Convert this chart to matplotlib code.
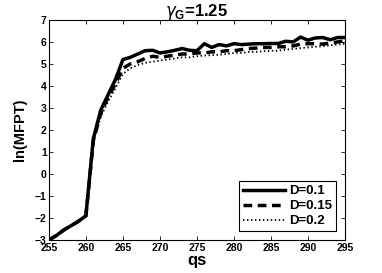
import matplotlib
matplotlib.use("Agg")
import matplotlib.pyplot as plt

plt.rcParams['font.family'] = ['Liberation Sans', 'DejaVu Sans']
plt.rcParams['mathtext.fontset'] = 'custom'
plt.rcParams['mathtext.rm'] = 'Liberation Sans:bold'
plt.rcParams['mathtext.bf'] = 'Liberation Sans:bold'

qs = list(range(255, 296))
d01 = [-3.0, -2.8, -2.55, -2.35, -2.15, -1.9, 1.6, 2.9, 3.6, 4.3,
       5.2, 5.3, 5.45, 5.6, 5.62, 5.5, 5.55, 5.62, 5.7, 5.62,
       5.6, 5.92, 5.75, 5.88, 5.82, 5.92, 5.88, 5.9, 5.92, 5.92,
       5.93, 5.93, 6.03, 6.0, 6.22, 6.08, 6.18, 6.2, 6.1, 6.2, 6.2]
d015 = [-3.0, -2.8, -2.55, -2.35, -2.15, -1.9, 1.5, 2.75, 3.5, 4.1,
        4.8, 5.0, 5.1, 5.25, 5.35, 5.3, 5.35, 5.4, 5.45, 5.45,
        5.5, 5.5, 5.55, 5.55, 5.6, 5.6, 5.65, 5.7, 5.72, 5.75,
        5.75, 5.78, 5.78, 5.82, 5.9, 5.92, 5.92, 5.9, 5.95, 6.0, 6.05]
d02 = [-3.0, -2.8, -2.55, -2.35, -2.15, -1.9, 1.45, 2.6, 3.3, 3.9,
       4.55, 4.8, 4.95, 5.05, 5.1, 5.15, 5.2, 5.25, 5.3, 5.3,
       5.35, 5.38, 5.4, 5.42, 5.45, 5.5, 5.5, 5.55, 5.55, 5.58,
       5.6, 5.6, 5.65, 5.68, 5.72, 5.75, 5.78, 5.8, 5.85, 5.88, 5.92]
xticks = [255, 260, 265, 270, 275, 280, 285, 290, 295]
yticks = [-3, -2, -1, 0, 1, 2, 3, 4, 5, 6, 7]

fig = plt.figure(figsize=(3.82, 2.73), dpi=100)
ax = fig.add_axes([0.128, 0.121, 0.775, 0.806])
ax.plot(qs, d02, color='black', lw=1.3, ls=(0, (0.8, 1.4)), label='D=0.2', zorder=2)
ax.plot(qs, d015, color='black', lw=2.5, ls=(0, (2.5, 1.6)), label='D=0.15', zorder=3)
ax.plot(qs, d01, color='black', lw=2.5, ls='-', label='D=0.1', zorder=4)

ax.set_xlim(255, 295)
ax.set_ylim(-3, 7)
ax.set_xticks(xticks)
ax.set_yticks(yticks)
ax.tick_params(direction='in', top=True, right=True, length=3, width=0.6,
               labelsize=7.5)
ax.tick_params(axis='x', pad=2.5)
ax.tick_params(axis='y', pad=1.5)
for lab in ax.get_xticklabels() + ax.get_yticklabels():
    lab.set_fontweight('bold')
for s in ax.spines.values():
    s.set_linewidth(0.8)

ax.set_xlabel('qs', fontsize=12, fontweight='bold', labelpad=0)
ax.set_ylabel('ln(MFPT)', fontsize=10.5, fontweight='bold', labelpad=6)
ax.set_title(r'$\gamma_{\mathbf{G}}$=1.25', fontsize=12, fontweight='bold', pad=3)

h, l = ax.get_legend_handles_labels()
leg = ax.legend(h[::-1], l[::-1], loc='lower right', bbox_to_anchor=(0.97, 0.04),
                fancybox=False, edgecolor='black', framealpha=1,
                prop={'weight': 'bold', 'size': 9.5}, handlelength=3.2,
                handletextpad=0.3, borderpad=0.3, labelspacing=0.2,
                borderaxespad=0)
leg.get_frame().set_linewidth(0.8)

fig.savefig('out.png', dpi=100)
